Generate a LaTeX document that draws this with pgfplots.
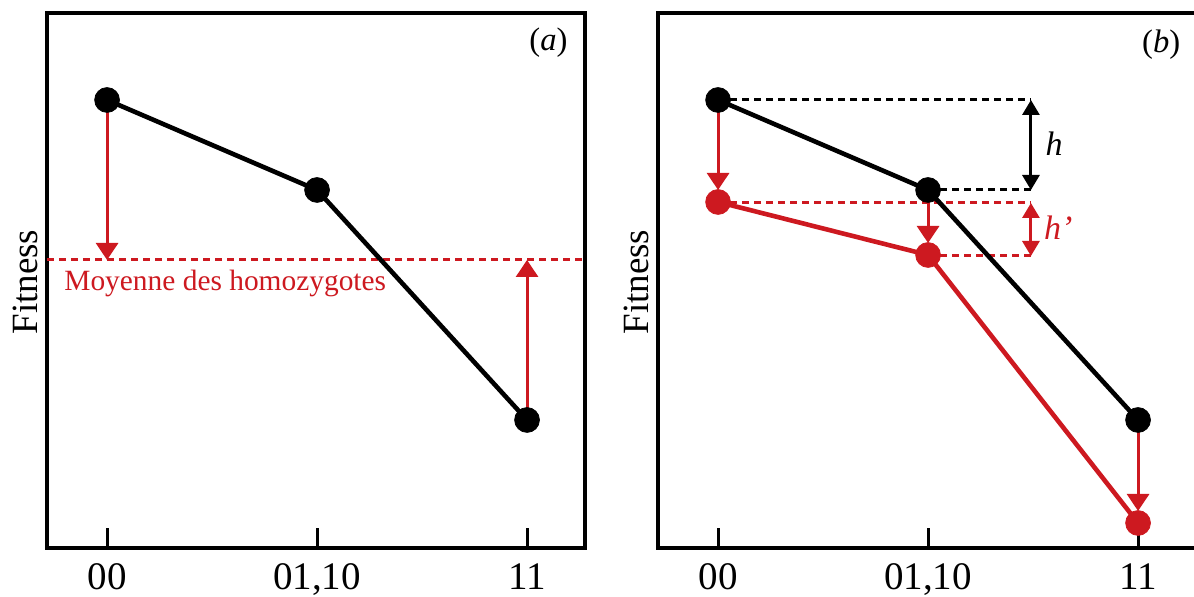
\documentclass[border=0pt]{standalone}
\usepackage{fontspec}
\setmainfont{Liberation Serif}
\usepackage{pgfplots}
\usepackage{pgfplotstable}
\pgfplotsset{compat=1.18}
\usetikzlibrary{arrows.meta}
\definecolor{myred}{RGB}{205,25,32}

\pgfplotstableread{
x y
0 448
1 358
2 128
}\blackdata
\pgfplotstableread{
x y
0 346
1 293
2 25
}\reddata

\pgfplotsset{
  panel/.style={
    scale only axis, width=269pt, height=267.5pt,
    xmin=-0.286, xmax=2.276, ymin=0, ymax=535,
    xtick={0,1,2}, xticklabels={00,{01,10},11},
    ytick=\empty, xtick pos=left,
    axis line style={line width=2pt},
    major tick length=10pt,
    every tick/.style={black, line width=1.5pt},
    tick align=inside,
    xticklabel style={font=\fontsize{19.5}{23}\selectfont, inner sep=0pt, anchor=north, yshift=-7.5pt},
    ylabel={Fitness},
    ylabel style={font=\fontsize{18.5}{22}\selectfont, at={(axis description cs:-0.041,0.497)}, anchor=center},
    clip=false,
  },
  dline/.style={line width=1.5pt, dash pattern=on 3.6pt off 2.4pt},
  arr/.style={line width=1.5pt, -{Triangle[width=11pt,length=8.5pt]}},
  darr/.style={line width=1.5pt, {Triangle[width=8.5pt,length=7.5pt]}-{Triangle[width=8.5pt,length=7.5pt]}},
}

\begin{document}
\begin{tikzpicture}
\useasboundingbox (0,0) rectangle (597pt,298.5pt);
% ---------- panel (a)
\begin{axis}[panel, at={(23.5pt,24.5pt)}, anchor=south west]
\addplot[myred, dline] coordinates {(-0.286,288) (2.276,288)};
\addplot[black, line width=2.3pt] table {\blackdata};
\addplot[myred, arr] coordinates {(0,440) (0,288)};
\addplot[myred, arr] coordinates {(2,136) (2,288)};
\addplot[only marks, mark=*, mark size=6.2pt, black] table {\blackdata};
\node[myred, font=\fontsize{14.7}{17}\selectfont, anchor=base west, inner sep=0pt] at (axis cs:-0.205,257) {Moyenne des homozygotes};
\node[font=\fontsize{16.3}{19}\selectfont] at (axis cs:2.102,505) {(\textit{a})};
\end{axis}
% ---------- panel (b)
\begin{axis}[panel, at={(329pt,24.5pt)}, anchor=south west]
\addplot[black, dline] coordinates {(0,448) (1.49,448)};
\addplot[black, dline] coordinates {(1,358) (1.49,358)};
\addplot[myred, dline] coordinates {(0,345) (1.49,345)};
\addplot[myred, dline] coordinates {(1,292) (1.49,292)};
\addplot[black, darr] coordinates {(1.49,448) (1.49,358)};
\addplot[myred, darr] coordinates {(1.49,345) (1.49,292)};
\addplot[black, line width=2.3pt] table {\blackdata};
\addplot[myred, line width=2.3pt] table {\reddata};
\addplot[myred, arr] coordinates {(0,442) (0,358)};
\addplot[myred, arr] coordinates {(1,352) (1,305)};
\addplot[myred, arr] coordinates {(2,122) (2,37)};
\addplot[only marks, mark=*, mark size=6.2pt, black] table {\blackdata};
\addplot[only marks, mark=*, mark size=6.2pt, myred] table {\reddata};
\node[font=\fontsize{17}{20}\selectfont] at (axis cs:1.6,404) {\textit{h}};
\node[myred, font=\fontsize{17}{20}\selectfont] at (axis cs:1.62,320) {\textit{h’}};
\node[font=\fontsize{16.3}{19}\selectfont] at (axis cs:2.11,503) {(\textit{b})};
\end{axis}
\end{tikzpicture}
\end{document}
